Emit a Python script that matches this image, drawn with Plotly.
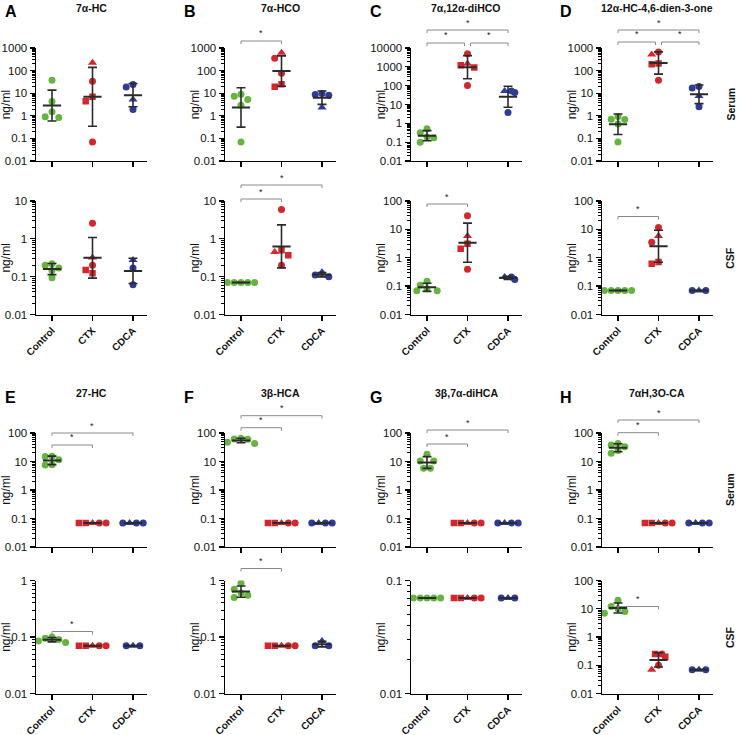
import numpy as np
import plotly.graph_objects as go

# ---------------- data ----------------
GROUPS = ["Control", "CTX", "CDCA"]
CTX_SYMBOLS = ["square", "square", "triangle-up", "circle", "circle"]
CDCA_SERUM_SYMBOLS = ["circle", "triangle-up", "circle", "circle"]
CDCA_CSF_SYMBOLS = ["circle", "triangle-up", "circle"]
CONTROL_SYMBOLS = ["circle", "circle", "circle", "circle", "circle"]

TITLES = ["7α-HC", "7α-HCO", "7α,12α-diHCO", "12α-HC-4,6-dien-3-one",
          "27-HC", "3β-HCA", "3β,7α-diHCA", "7αH,3O-CA"]
LETTERS = ["A", "B", "C", "D", "E", "F", "G", "H"]
Y_TICK_TEXT = {-2: "0.01", -1: "0.1", 0: "1", 1: "10", 2: "100", 3: "1000", 4: "10000"}

# Panel A – 7α-HC
A_serum_control = [37, 4.3, 1.5, 0.85, 0.9]
A_serum_ctx = [6.9, 4.4, 224, 34, 0.07]
A_serum_cdca = [19, 5.2, 24, 1.9]
A_csf_control = [0.2, 0.22, 0.145, 0.093, 0.17]
A_csf_ctx = [0.124, 0.15, 0.32, 2.6, 0.2]
A_csf_cdca = [0.17, 0.275, 0.061]
# Panel B – 7α-HCO
B_serum_control = [7.4, 9, 2.9, 5.2, 0.07]
B_serum_ctx = [19.5, 25, 620, 350, 76]
B_serum_cdca = [9.8, 2.3, 8.7, 8.1]
B_csf_control = [0.07, 0.07, 0.07, 0.07, 0.07]
B_csf_ctx = [0.5, 0.37, 0.45, 6.0, 0.2]
B_csf_cdca = [0.1, 0.13, 0.11]
# Panel C – 7α,12α-diHCO
C_serum_control = [0.32, 0.1, 0.19, 0.51, 0.17]
C_serum_ctx = [910, 1200, 1480, 5000, 102]
C_serum_cdca = [43, 52, 52, 3.8]
C_csf_control = [0.148, 0.069, 0.107, 0.069, 0.081]
C_csf_ctx = [3.1, 2.07, 5.9, 30.5, 0.39]
C_csf_cdca = [0.17, 0.21, 0.21]
# Panel D – 12α-HC-4,6-dien-3-one
D_serum_control = [0.71, 0.93, 0.43, 0.69, 0.07]
D_serum_ctx = [204, 190, 510, 660, 37]
D_serum_cdca = [17, 7.6, 20, 2.5]
D_csf_control = [0.07, 0.07, 0.07, 0.07, 0.07]
D_csf_ctx = [0.62, 0.71, 5.9, 11.6, 3.5]
D_csf_cdca = [0.07, 0.07, 0.07]
# Panel E – 27-HC
E_serum_control = [15.4, 7.6, 11.5, 15, 7.7]
E_serum_ctx = [0.07, 0.07, 0.07, 0.07, 0.07]
E_serum_cdca = [0.07, 0.07, 0.07, 0.07]
E_csf_control = [0.1, 0.085, 0.09, 0.08, 0.095]
E_csf_ctx = [0.07, 0.07, 0.07, 0.07, 0.07]
E_csf_cdca = [0.07, 0.07, 0.07]
# Panel F – 3β-HCA
F_serum_control = [47, 65, 61, 60, 43]
F_serum_ctx = [0.07, 0.07, 0.07, 0.07, 0.07]
F_serum_cdca = [0.07, 0.07, 0.07, 0.07]
F_csf_control = [0.9, 0.7, 0.6, 0.5, 0.55]
F_csf_ctx = [0.07, 0.07, 0.07, 0.07, 0.07]
F_csf_cdca = [0.07, 0.085, 0.07]
# Panel G – 3β,7α-diHCA
G_serum_control = [18, 10.5, 10.5, 5.8, 5.8]
G_serum_ctx = [0.07, 0.07, 0.07, 0.07, 0.07]
G_serum_cdca = [0.07, 0.07, 0.07, 0.07]
G_csf_control = [0.07, 0.07, 0.07, 0.07, 0.07]
G_csf_ctx = [0.07, 0.07, 0.07, 0.07, 0.07]
G_csf_cdca = [0.07, 0.07, 0.07]
# Panel H – 7αH,3O-CA
H_serum_control = [38, 19.6, 33, 43, 24.5]
H_serum_ctx = [0.07, 0.07, 0.07, 0.07, 0.07]
H_serum_cdca = [0.07, 0.07, 0.07, 0.07]
H_csf_control = [20, 12, 10, 8, 7]
H_csf_ctx = [0.25, 0.2, 0.07, 0.1, 0.25]
H_csf_cdca = [0.07, 0.07, 0.07]

# ---------------- style / layout config ----------------
W, H = 738, 735
COLORS = ["#66b340", "#d0282d", "#2e3c96"]
SYM_SIZE = {"circle": 7, "square": 6.5, "triangle-up": 8}
MEAN_COLOR = "#2a2a2a"
FONT = "Liberation Sans, Arial, sans-serif"
COL_TICK0 = [52, 241, 427, 618]
CAT_PX = 40.5
XR = (-0.4, 2.35)
ROW_TB = [(48, 161), (201, 314.5), (433, 547), (580.5, 693.5)]
DOT = 6.8

panels = [
    # (row, col, data, (ymin, ymax) decades, brackets [(i, j, px above top)])
    (0, 0, (A_serum_control, A_serum_ctx, A_serum_cdca), (-2, 3), []),
    (0, 1, (B_serum_control, B_serum_ctx, B_serum_cdca), (-2, 3), [(0, 1, 7)]),
    (0, 2, (C_serum_control, C_serum_ctx, C_serum_cdca), (-2, 4), [(0, 1, 5), (1, 2, 5), (0, 2, 18)]),
    (0, 3, (D_serum_control, D_serum_ctx, D_serum_cdca), (-2, 3), [(0, 1, 6), (1, 2, 6), (0, 2, 18)]),
    (1, 0, (A_csf_control, A_csf_ctx, A_csf_cdca), (-2, 1), []),
    (1, 1, (B_csf_control, B_csf_ctx, B_csf_cdca), (-2, 1), [(0, 1, 2), (0, 2, 16)]),
    (1, 2, (C_csf_control, C_csf_ctx, C_csf_cdca), (-2, 2), [(0, 1, -3)]),
    (1, 3, (D_csf_control, D_csf_ctx, D_csf_cdca), (-2, 2), [(0, 1, -15.5)]),
    (2, 0, (E_serum_control, E_serum_ctx, E_serum_cdca), (-2, 2), [(0, 1, -12), (0, 2, 0)]),
    (2, 1, (F_serum_control, F_serum_ctx, F_serum_cdca), (-2, 2), [(0, 1, 5.3), (0, 2, 17.3)]),
    (2, 2, (G_serum_control, G_serum_ctx, G_serum_cdca), (-2, 2), [(0, 1, -11), (0, 2, 3)]),
    (2, 3, (H_serum_control, H_serum_ctx, H_serum_cdca), (-2, 2), [(0, 1, 0.3), (0, 2, 13)]),
    (3, 0, (E_csf_control, E_csf_ctx, E_csf_cdca), (-2, 0), [(0, 1, -51)]),
    (3, 1, (F_csf_control, F_csf_ctx, F_csf_cdca), (-2, 0), [(0, 1, 12)]),
    (3, 2, (G_csf_control, G_csf_ctx, G_csf_cdca), (-2, -1), []),
    (3, 3, (H_csf_control, H_csf_ctx, H_csf_cdca), (-2, 2), [(0, 1, -26)]),
]


def swarm(vals, px_dec):
    """Greedy beeswarm offsets (pixels) so that markers do not overlap."""
    n = len(vals)
    ys = np.log10(vals) * px_dec
    order = sorted(range(n), key=lambda i: (-vals[i], i))
    cands = [0.0]
    for k in range(1, 12):
        cands += [-k * DOT, k * DOT]
    placed = {}
    for i in order:
        for c in cands:
            ok = True
            for j, cj in placed.items():
                if abs(c - cj) < DOT - 1e-6 and abs(ys[i] - ys[j]) < DOT - 1e-6:
                    ok = False
                    break
            if ok:
                placed[i] = c
                break
    seen = set()
    for i in range(n):
        if i in seen:
            continue
        grp = [j for j in range(n) if vals[j] == vals[i]]
        seen.update(grp)
        if len(grp) > 1:
            offs = sorted(placed[j] for j in grp)
            m = np.mean(offs)
            for j, o in zip(grp, offs):
                placed[j] = o - m
    return [placed[i] for i in range(n)]


fig = go.Figure()
layout = dict(width=W, height=H, margin=dict(l=0, r=0, t=0, b=0, autoexpand=False),
              template="none",
              paper_bgcolor="white", plot_bgcolor="white", showlegend=False,
              font=dict(family=FONT, color="#222"))
shapes, annots = [], []


def ann(x, y, text, size, angle=0, xanchor="center", yanchor="middle", color="#111"):
    annots.append(dict(x=x / W, y=1 - y / H, xref="paper", yref="paper", text=text,
                       textangle=angle, showarrow=False, xanchor=xanchor, yanchor=yanchor,
                       font=dict(size=size, family=FONT, color=color)))


for n, (row, col, data, (y0, y1), brackets) in enumerate(panels, start=1):
    xa = "x" if n == 1 else f"x{n}"
    ya = "y" if n == 1 else f"y{n}"
    xl = COL_TICK0[col] + XR[0] * CAT_PX
    xr = COL_TICK0[col] + XR[1] * CAT_PX
    top, bot = ROW_TB[row]
    px_dec = (bot - top) / (y1 - y0)
    csf = row in (1, 3)
    sym_sets = [CONTROL_SYMBOLS, CTX_SYMBOLS, CDCA_CSF_SYMBOLS if csf else CDCA_SERUM_SYMBOLS]

    for gi, vals in enumerate(data):
        offs = swarm(vals, px_dec)
        syms = sym_sets[gi][:len(vals)]
        fig.add_trace(go.Scatter(
            x=[gi + o / CAT_PX for o in offs], y=vals, mode="markers",
            xaxis=xa, yaxis=ya, hoverinfo="skip",
            marker=dict(symbol=syms, size=[SYM_SIZE[s] for s in syms], opacity=1,
                        color=COLORS[gi], line=dict(width=0))))
    for gi, vals in enumerate(data):
        lg = np.log10(vals)
        m = lg.mean()
        s = lg.std(ddof=1)
        gm = 10 ** m
        fig.add_trace(go.Scatter(
            x=[gi], y=[gm], mode="markers", xaxis=xa, yaxis=ya, hoverinfo="skip",
            marker=dict(symbol="line-ew", size=13, opacity=1,
                        line=dict(width=2, color=MEAN_COLOR)),
            error_y=dict(type="data", symmetric=False, array=[10 ** (m + s) - gm],
                         arrayminus=[gm - 10 ** (m - s)], width=4.5, thickness=1.6,
                         color=MEAN_COLOR)))

    minor_vals = [d * 10 ** k for k in range(y0, y1) for d in range(2, 10)]
    key = n if n > 1 else ""
    layout[f"xaxis{key}"] = dict(
        domain=[xl / W, xr / W], range=list(XR), anchor=ya, automargin=False,
        showgrid=False, zeroline=False, showline=True, linecolor="black", linewidth=1.3,
        tickmode="array", tickvals=[0, 1, 2],
        ticktext=GROUPS if csf else ["", "", ""],
        showticklabels=csf, tickangle=-45, ticks="outside", ticklen=5, tickwidth=1.3,
        tickcolor="black",
        tickfont=dict(size=10, family=FONT, color="#111", weight="bold"))
    layout[f"yaxis{key}"] = dict(
        domain=[1 - bot / H, 1 - top / H], type="log", range=[y0, y1], anchor=xa,
        automargin=False,
        showgrid=False, zeroline=False, showline=True, linecolor="black", linewidth=1.3,
        tickmode="array", tickvals=[10 ** k for k in range(y0, y1 + 1)],
        ticktext=[Y_TICK_TEXT[k] for k in range(y0, y1 + 1)],
        ticks="outside", ticklen=5, tickwidth=1.3, tickcolor="black",
        tickfont=dict(size=11.5, family=FONT, color="#111"),
        minor=dict(tickmode="array", tickvals=minor_vals, ticks="outside", ticklen=2.5,
                   tickwidth=1, tickcolor="black", showgrid=False))

    ann(xl - 30, (top + bot) / 2, "ng/ml", 12, angle=-90)

    # significance brackets
    for (i, j, up) in brackets:
        xi = COL_TICK0[col] + i * CAT_PX
        xj = COL_TICK0[col] + j * CAT_PX
        for b in brackets:
            if b[2] == up and b != (i, j, up):
                if b[0] == j:
                    xj -= 3
                if b[1] == i:
                    xi += 3
        yb = top - up
        tick = 3
        path = (f"M {xi / W},{1 - (yb + tick) / H} L {xi / W},{1 - yb / H} "
                f"L {xj / W},{1 - yb / H} L {xj / W},{1 - (yb + tick) / H}")
        shapes.append(dict(type="path", path=path, xref="paper", yref="paper",
                           line=dict(color="#8a8a8a", width=1)))
        ann((xi + xj) / 2, yb - 0.5, "*", 9, yanchor="bottom", color="#222")

# titles and letters
for k in range(8):
    col = k % 4
    row = 0 if k < 4 else 2
    xl = COL_TICK0[col] + XR[0] * CAT_PX
    xr = COL_TICK0[col] + XR[1] * CAT_PX
    ty = 8 if row == 0 else 393
    ann((xl + xr) / 2, ty, f"<b>{TITLES[k]}</b>", 10.5)
    lx = [3, 182, 368, 558][col]
    ly = 12 if row == 0 else 397
    ann(lx, ly, f"<b>{LETTERS[k]}</b>", 16, xanchor="left", color="#000")

for r, lab in enumerate(["Serum", "CSF", "Serum", "CSF"]):
    top, bot = ROW_TB[r]
    ann(730, (top + bot) / 2, f"<b>{lab}</b>", 10.5, angle=-90)

layout["shapes"] = shapes
layout["annotations"] = annots
fig.update_layout(**layout)
fig.write_html("out.html", config={"displayModeBar": False, "staticPlot": True},
               post_script="document.body.style.margin='0';document.body.style.overflow='hidden';")
